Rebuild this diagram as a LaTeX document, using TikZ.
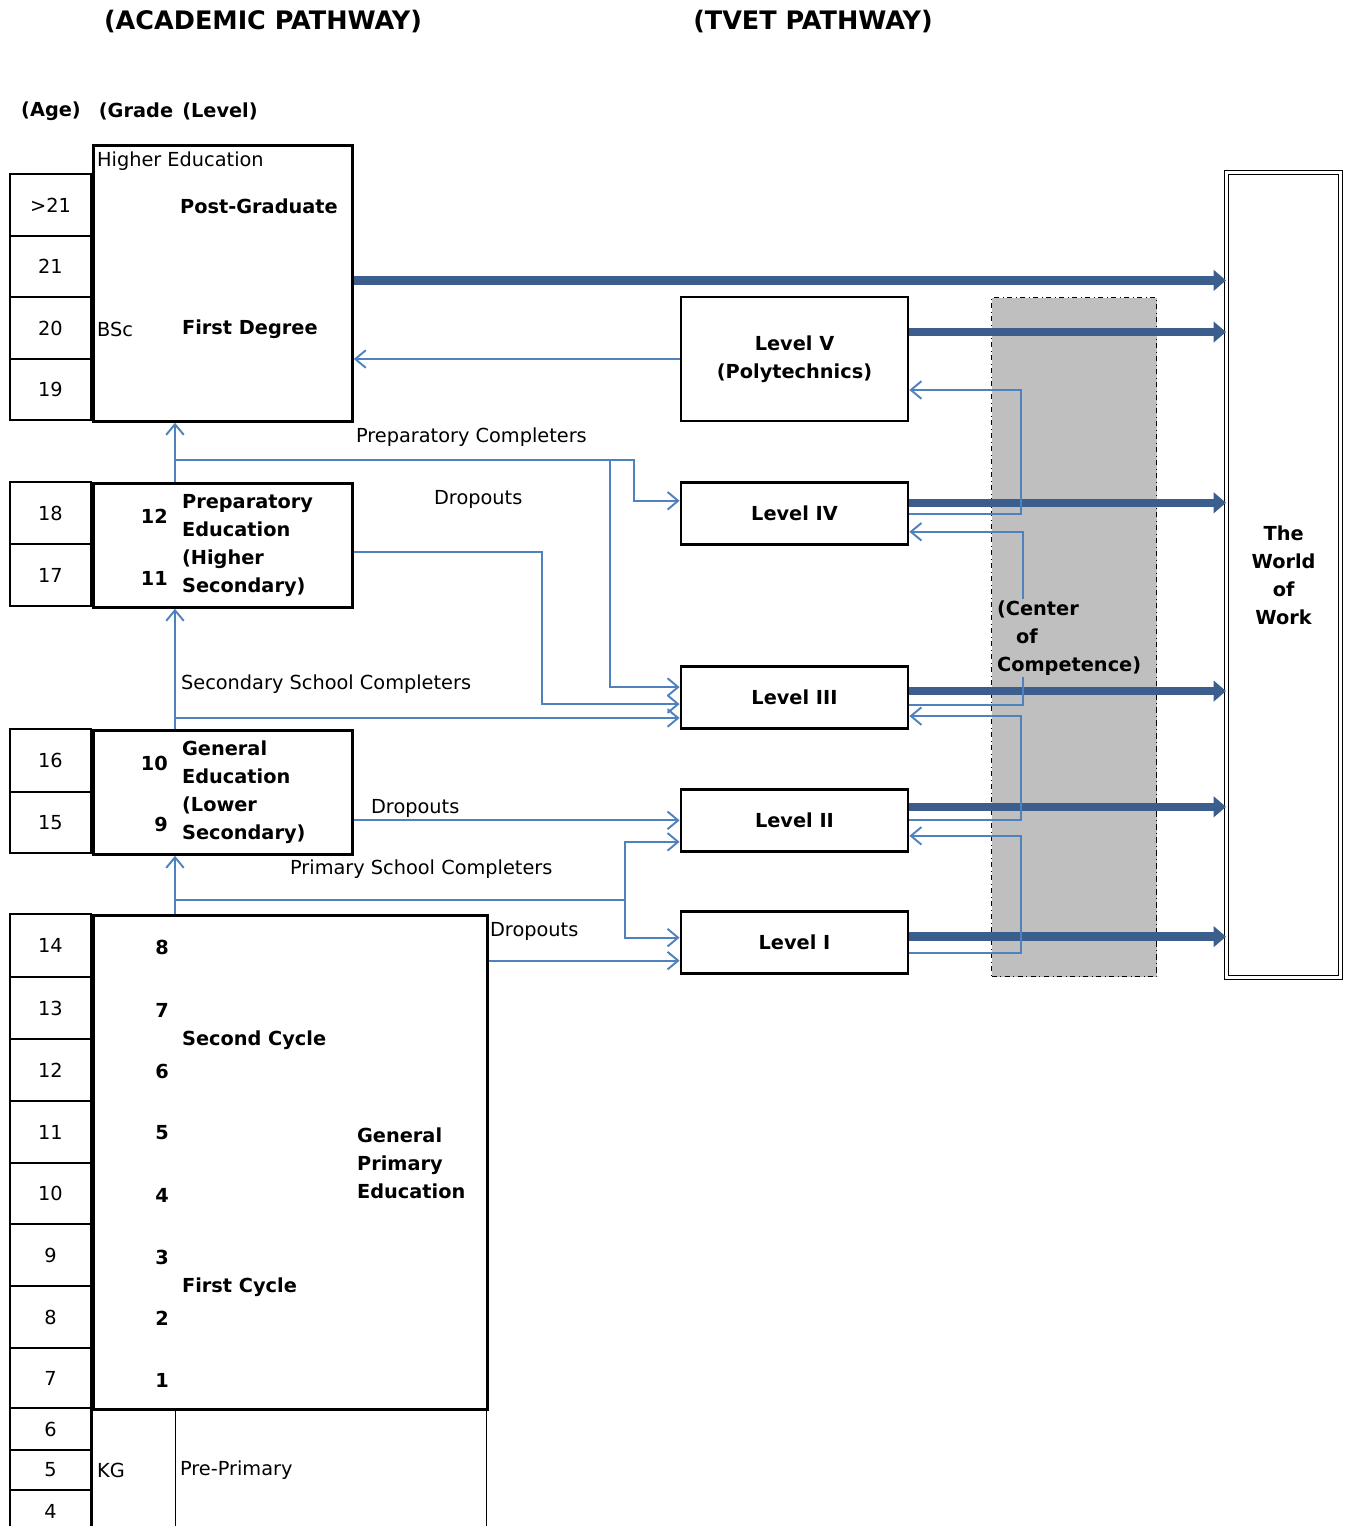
\documentclass[tikz,border=0pt]{standalone}
\usepackage{fontspec}
\setmainfont{DejaVu Sans}
\usetikzlibrary{arrows.meta,positioning}

\definecolor{flowblue}{RGB}{79,129,189}
\definecolor{workblue}{RGB}{59,94,140}
\definecolor{cocgray}{RGB}{191,191,191}
\newcommand\bodyfont{\fontsize{11}{15.9}\selectfont}

\tikzset{
  agecell/.style={draw, line width=0.8pt, minimum width=1.62cm, inner sep=0pt},
  edubox/.style={draw, line width=1.6pt, anchor=north west, inner sep=0pt},
  lvlbox/.style={draw, line width=1.6pt, minimum width=4.54cm, minimum height=1.24cm,
    font=\bodyfont\bfseries, align=center},
  workbox/.style={draw, double, line width=0.7pt, double distance=1.3pt, anchor=north west,
    font=\bodyfont\bfseries, align=center},
  flow/.style={flowblue, line width=1.1pt, -{Straight Barb[length=6pt,width=10pt]}},
  link/.style={flowblue, line width=1.1pt},
  towork/.style={workblue, line width=4.8pt, -{Triangle[length=7pt,width=11.5pt]}},
  txt/.style={anchor=west, inner sep=1pt, font=\bodyfont},
  btxt/.style={txt, font=\bodyfont\bfseries, align=left},
  grade/.style={font=\bodyfont\bfseries, inner sep=1pt},
  head/.style={font=\bfseries\fontsize{14.5}{17}\selectfont},
  colhead/.style={font=\bfseries\fontsize{11}{13}\selectfont},
}

\begin{document}
\begin{tikzpicture}[x=0.02cm, y=-0.02cm, font=\bodyfont]
\useasboundingbox (0,0) rectangle (1346,1526);

% headings
\node[head] (acad) at (263,22) {(ACADEMIC PATHWAY)};
\node[head] (tvet) at (813,22) {(TVET PATHWAY)};
\node[colhead] (hage) at (51,111) {(Age)};
\node[colhead] (hgrade) at (136,111) {(Grade};
\node[colhead] (hlevel) at (220,111) {(Level)};

% age column
\foreach \ag/\ya/\yb [count=\i] in {>21/174/236, 21/236/297, 20/297/359, 19/359/420,
    18/482/544, 17/544/606, 16/729/792, 15/792/853, 14/914/977, 13/977/1039,
    12/1039/1101, 11/1101/1163, 10/1163/1224, 9/1224/1286, 8/1286/1348, 7/1348/1408,
    6/1408/1450, 5/1450/1490, 4/1490/1532}
  \node[agecell, minimum height={(\yb-\ya)*0.02cm}] (age\i) at (50.5,{(\ya+\yb)/2}) {\ag};

% academic pathway
\node[edubox, minimum width=5.18cm, minimum height=5.52cm] (higher) at (92,144) {};
\node[edubox, minimum width=5.18cm, minimum height=2.48cm] (prep) at (92,482) {};
\node[edubox, minimum width=5.18cm, minimum height=2.48cm] (gened) at (92,729) {};
\node[edubox, minimum width=7.88cm, minimum height=9.88cm] (prim) at (92,914) {};
\node[draw, line width=0.8pt, anchor=north west, minimum width=1.66cm, minimum height=2.5cm] (kg) at (92,1408) {};
\node[draw, line width=0.8pt, anchor=north west, minimum width=6.22cm, minimum height=2.5cm] (preprim) at (175,1408) {};

\node[txt] (hetxt) at (95,161) {Higher Education};
\node[btxt] (pgtxt) at (178,206) {Post-Graduate};
\node[txt] (bsc) at (95,329) {BSc};
\node[btxt] (fdtxt) at (180,329) {First Degree};
\node[grade, anchor=east] (gr12) at (170,516) {12};
\node[grade, anchor=east] (gr11) at (170,578) {11};
\node[btxt] (preptxt) at (180,545.5) {Preparatory\\Education\\(Higher\\Secondary)};
\node[grade, anchor=east] (gr10) at (170,763) {10};
\node[grade, anchor=east] (gr9) at (170,824) {9};
\node[btxt] (gentxt) at (180,792.5) {General\\Education\\(Lower\\Secondary)};
\foreach \g/\y in {8/947, 7/1010, 6/1071, 5/1133, 4/1195, 3/1257, 2/1318, 1/1380}
  \node[grade] (gr\g) at (162,\y) {\g};
\node[btxt] (cyc2) at (180,1040) {Second Cycle};
\node[btxt] (cyc1) at (180,1287) {First Cycle};
\node[btxt] (gpe) at (355,1163) {General\\Primary\\Education};
\node[txt] (kgtxt) at (95,1470) {KG};
\node[txt] (pptxt) at (178,1470) {Pre-Primary};

% tvet pathway
\node[lvlbox, minimum height=2.48cm] (lv5) at (794.5,359) {Level V\\(Polytechnics)};
\node[lvlbox, below=1.18cm of lv5] (lv4) {Level IV};
\node[lvlbox, below=2.38cm of lv4] (lv3) {Level III};
\node[lvlbox, below=1.16cm of lv3] (lv2) {Level II};
\node[lvlbox, below=1.14cm of lv2] (lv1) {Level I};

\node[draw, dash dot, line width=0.8pt, fill=cocgray, anchor=north west, inner sep=0pt,
  minimum width=3.3cm, minimum height=13.58cm] (coc) at (991,297) {};
\node[workbox, minimum width=2.28cm, minimum height=16.1cm] (work) at (1226,172) {The\\World\\of\\Work};

% completers going up
\draw[flow] ([xshift=1.66cm]prep.north west) -- ([xshift=1.66cm]higher.south west);
\draw[flow] ([xshift=1.66cm]gened.north west) -- ([xshift=1.66cm]prep.south west);
\draw[flow] ([xshift=1.66cm]prim.north west) -- ([xshift=1.66cm]gened.south west);

% into tvet
\draw[flow] (lv5.west) -- (lv5.west -| higher.east);
\coordinate (pc) at (175,460);
\draw[flow] (pc) -- (634,460) |- ([yshift=0.26cm]lv4.west);
\draw[flow] (610,460) |- ([yshift=0.21cm]lv3.west);
\draw[flow] ([yshift=-0.14cm]prep.east) -- ++(188,0) |- ([yshift=-0.13cm]lv3.west);
\coordinate (sc) at (175,718);
\draw[flow] (sc) -- (sc -| lv3.west);
\draw[flow] (gened.east |- lv2.west) -- (lv2.west);
\coordinate (pcomp) at (175,900);
\draw[link] (pcomp) -- (625,900);
\draw[flow] (625,900) |- ([yshift=-0.43cm]lv2.west);
\draw[flow] (625,900) |- ([yshift=0.09cm]lv1.west);
\coordinate (pd) at ([yshift=-0.37cm]lv1.west);
\draw[flow] (pd -| prim.east) -- (pd);

\node[txt] (lbpc) at (354,437) {Preparatory Completers};
\node[txt] (lbd1) at (432,499) {Dropouts};
\node[txt] (lbsc) at (179,684) {Secondary School Completers};
\node[txt] (lbd2) at (369,808) {Dropouts};
\node[txt] (lbpsc) at (288,869) {Primary School Completers};
\node[txt] (lbd3) at (488,931) {Dropouts};

% to the world of work
\coordinate (he) at ([yshift=0.06cm]higher.east);
\draw[towork] (he) -- (he -| work.west);
\foreach \l/\s in {lv5/0.54, lv4/0.22, lv3/0.13, lv2/0.27, lv1/0.11} {
  \coordinate (t) at ([yshift=\s cm]\l.east);
  \draw[towork] (t) -- (t -| work.west);
}

% center of competence loops
\draw[flow] (lv4.east) -- ++(112,0) |- ([yshift=-0.62cm]lv5.east);
\draw[flow] ([yshift=-0.15cm]lv3.east) -- ++(114,0) |- ([yshift=-0.36cm]lv4.east);
\draw[flow] (lv2.east) -- ++(112,0) |- ([yshift=-0.37cm]lv3.east);
\draw[flow] ([yshift=-0.21cm]lv1.east) -- ++(112,0) |- ([yshift=-0.31cm]lv2.east);
\node[btxt, fill=cocgray] (coctxt) at (995,638) {(Center\\\hspace*{0.38cm}of\\Competence)};
\end{tikzpicture}
\end{document}
